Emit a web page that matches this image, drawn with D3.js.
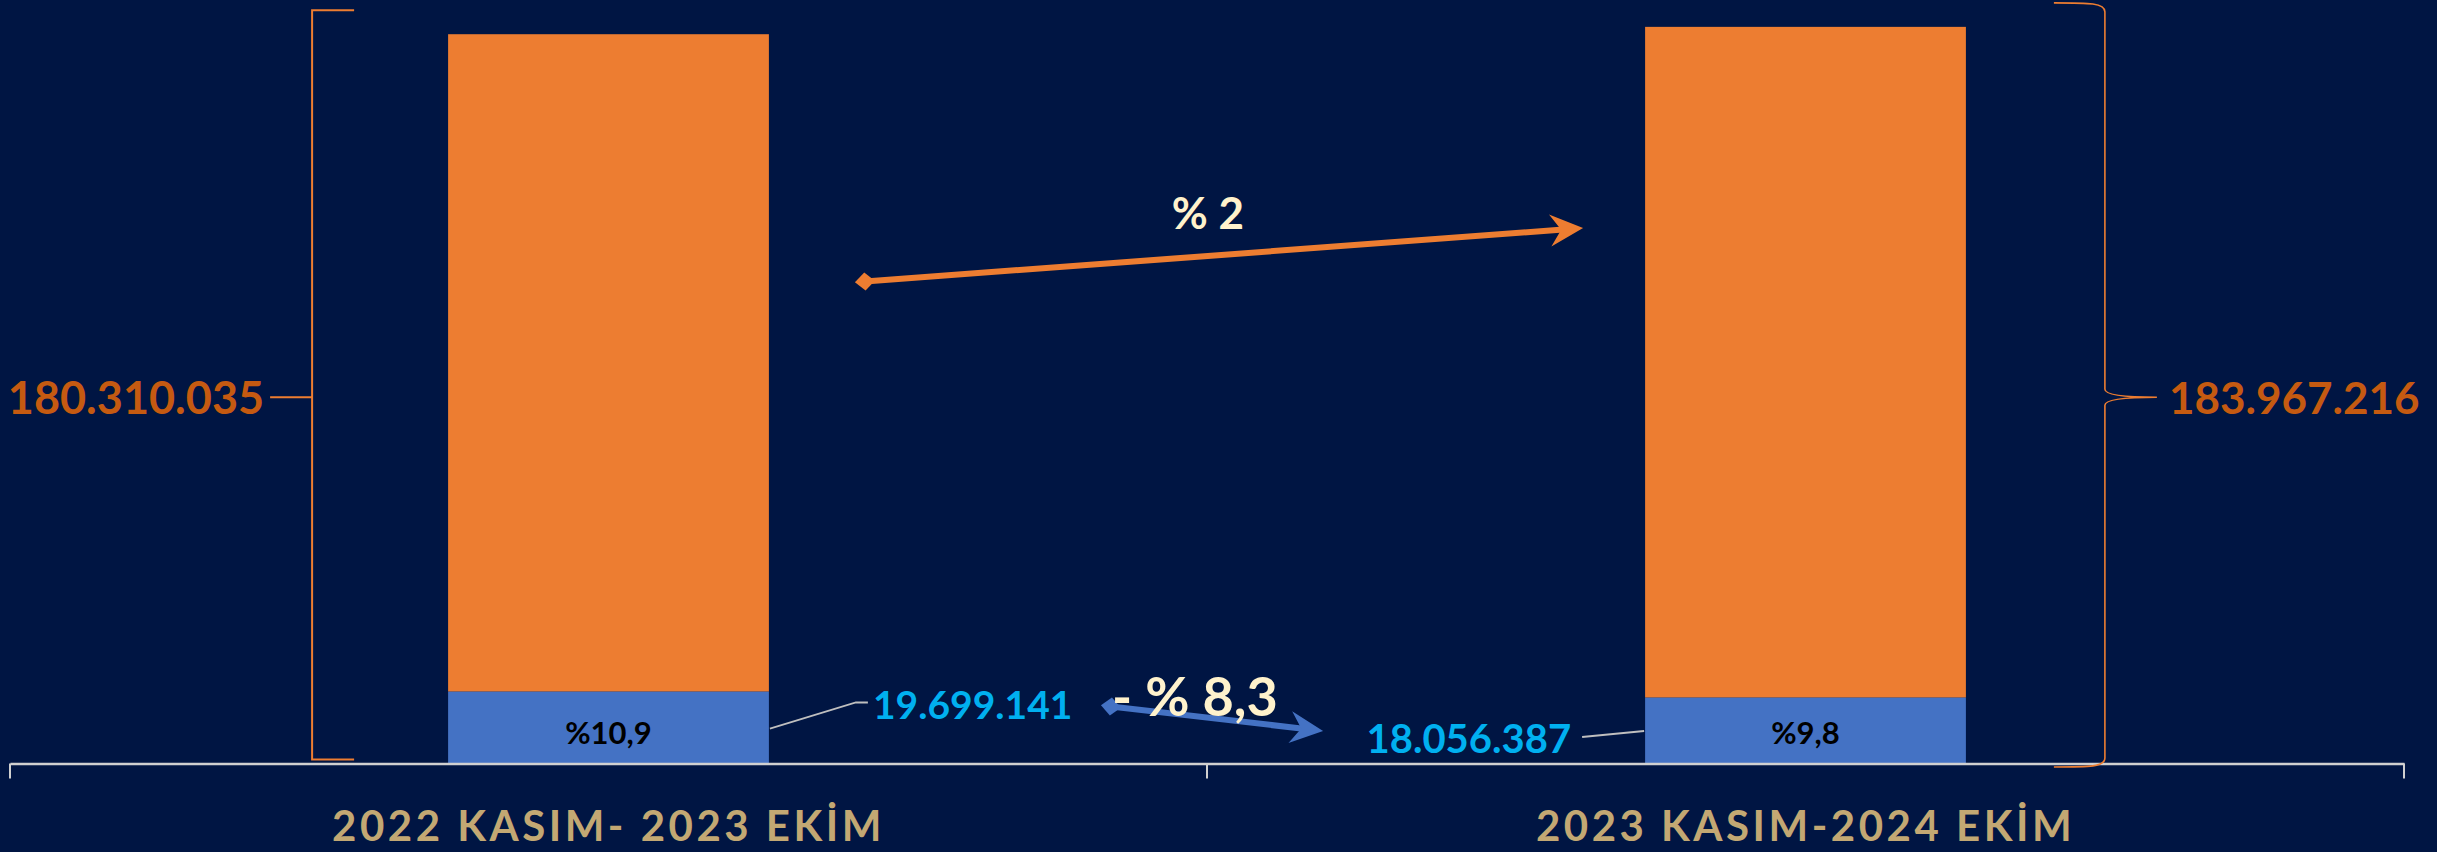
<!DOCTYPE html>
<html><head><meta charset="utf-8">
<script src="https://cdn.jsdelivr.net/npm/d3@7"></script>
<style>html,body{margin:0;padding:0;background:#001543;}svg{display:block;}</style>
</head><body>
<script>
const categories = ["2022 KASIM- 2023 EKİM", "2023 KASIM-2024 EKİM"];
const blueValues = [19699141, 18056387];
const orangeValues = [180310035, 183967216];
const shareLabels = ["%10,9", "%9,8"];
const changeLabels = ["% 2", "- % 8,3"];

(function(){
const W = 2437, H = 852;
const C = {bg:"#001543", orange:"#ED7D31", blue:"#4472C4", orangeTxt:"#C55A11", blueTxt:"#00B0F0", cat:"#C3A873", cream:"#FFF2CC", axis:"#D0D0D0"};
const FONT = "Lato, 'Open Sans', sans-serif";
const loc = d3.formatLocale({decimal:",", thousands:".", grouping:[3], currency:["",""]});
const fmt = loc.format(",d");

const svg = d3.select("body").append("svg").attr("width", W).attr("height", H);
svg.append("rect").attr("width", W).attr("height", H).attr("fill", C.bg);

const x = d3.scaleBand().domain(categories).range([10, 2404]).padding(0);
const barW = x.bandwidth() * 0.268;
const bx = c => x(c) + (x.bandwidth() - barW) / 2;
const y = d3.scaleLinear().domain([0, 200000000]).range([763.5, 34.24]);

const stacked = categories.map((c, i) => ({c, blue: blueValues[i], orange: orangeValues[i], total: blueValues[i] + orangeValues[i], i}));

const g = svg.append("g");
g.selectAll(".bo").data(stacked).join("rect")
  .attr("x", d => bx(d.c)).attr("width", barW)
  .attr("y", d => y(d.total)).attr("height", d => y(d.blue) - y(d.total))
  .attr("fill", C.orange);
g.selectAll(".bb").data(stacked).join("rect")
  .attr("x", d => bx(d.c)).attr("width", barW)
  .attr("y", d => y(d.blue)).attr("height", d => y(0) - y(d.blue))
  .attr("fill", C.blue);

g.selectAll(".sl").data(stacked).join("text")
  .attr("x", d => bx(d.c) + barW / 2).attr("y", d => y(0) - 20)
  .attr("text-anchor", "middle").attr("font-family", FONT).attr("font-weight", 700)
  .attr("font-size", 31).attr("fill", "#000").text((d, i) => shareLabels[i]);

const y0 = y(0);
const ax = svg.append("g").attr("transform", `translate(0,${y0})`);
ax.call(d3.axisBottom(x).tickSize(0).tickFormat(""));
ax.select(".domain").attr("stroke", C.axis).attr("stroke-width", 2.5);
const bounds = [x.range()[0], x(categories[1]), x.range()[1]];
ax.selectAll(".bt").data(bounds).join("line")
  .attr("x1", d => d).attr("x2", d => d).attr("y1", 0).attr("y2", 15)
  .attr("stroke", C.axis).attr("stroke-width", 2);

svg.selectAll(".cl").data(categories).join("text")
  .attr("x", d => x(d) + x.bandwidth() / 2).attr("y", 841)
  .attr("text-anchor", "middle").attr("font-family", FONT).attr("font-weight", 700)
  .attr("font-size", 42).attr("letter-spacing", 3.5).attr("fill", C.cat).text(d => d);

const b0 = stacked[0], b1 = stacked[1];
const lbX = bx(b0.c) - 136, midY = (y(0) + y(b1.total)) / 2 + 2;
svg.append("path")
  .attr("d", `M${lbX + 42},${y(b0.total) - 24} H${lbX} V${y(0) - 4} H${lbX + 42} M${lbX},${midY} H${lbX - 42}`)
  .attr("fill", "none").attr("stroke", C.orange).attr("stroke-width", 2);
svg.append("text").attr("x", lbX - 48).attr("y", midY + 17).attr("text-anchor", "end")
  .attr("font-family", FONT).attr("font-weight", 700).attr("font-size", 45)
  .attr("fill", C.orangeTxt).text(fmt(b0.orange));

const rbX = bx(b1.c) + barW + 139, bTop = y(b1.total) - 24, bBot = y(0) + 3.5;
svg.append("path")
  .attr("d", `M${rbX - 51},${bTop} C${rbX - 15},${bTop} ${rbX},${bTop} ${rbX},${bTop + 9} V${midY - 8} C${rbX},${midY - 2} ${rbX + 24},${midY} ${rbX + 52},${midY} C${rbX + 24},${midY} ${rbX},${midY + 2} ${rbX},${midY + 8} V${bBot - 9} C${rbX},${bBot} ${rbX - 15},${bBot} ${rbX - 51},${bBot}`)
  .attr("fill", "none").attr("stroke", C.orange).attr("stroke-width", 1.6);
svg.append("text").attr("x", rbX + 64).attr("y", midY + 17).attr("text-anchor", "start")
  .attr("font-family", FONT).attr("font-weight", 700).attr("font-size", 44)
  .attr("fill", C.orangeTxt).text(fmt(b1.orange));

const r0 = bx(b0.c) + barW, l1 = bx(b1.c);
svg.append("path").attr("d", `M${r0 + 1},${y(b0.blue / 2) + 1} L${r0 + 87},${y(0) - 61} H${r0 + 99}`)
  .attr("fill", "none").attr("stroke", "#BFBFBF").attr("stroke-width", 1.8);
svg.append("text").attr("x", r0 + 104).attr("y", y(0) - 45).attr("font-family", FONT)
  .attr("font-weight", 700).attr("font-size", 39).attr("fill", C.blueTxt).text(fmt(b0.blue));
svg.append("path").attr("d", `M${l1 - 1},${y(0) - 32.5} L${l1 - 63},${y(0) - 26.5}`)
  .attr("fill", "none").attr("stroke", "#BFBFBF").attr("stroke-width", 1.8);
svg.append("text").attr("x", l1 - 74).attr("y", y(0) - 11).attr("text-anchor", "end").attr("font-family", FONT)
  .attr("font-weight", 700).attr("font-size", 40).attr("fill", C.blueTxt).text(fmt(b1.blue));

function arrow(x1, y1, x2, y2, color, w) {
  const a = Math.atan2(y2 - y1, x2 - x1);
  const deg = a * 180 / Math.PI;
  svg.append("line").attr("x1", x1).attr("y1", y1).attr("x2", x2 - 20 * Math.cos(a)).attr("y2", y2 - 20 * Math.sin(a))
    .attr("stroke", color).attr("stroke-width", w);
  svg.append("path").attr("d", "M0,0 L-33,-16 L-22,0 L-33,16 Z").attr("fill", color)
    .attr("transform", `translate(${x2},${y2}) rotate(${deg})`);
  svg.append("path").attr("d", "M-10,0 L0,-9 L10,0 L0,9 Z").attr("fill", color)
    .attr("transform", `translate(${x1},${y1}) rotate(${deg})`);
}
arrow(r0 + 96, 281.5, l1 - 62, 228, C.orange, 6);
arrow(r0 + 342, y(0) - 57, l1 - 322, y(0) - 32.5, C.blue, 6);

svg.append("text").attr("x", (r0 + l1) / 2 + 1).attr("y", 229).attr("text-anchor", "middle")
  .attr("font-family", FONT).attr("font-weight", 700).attr("font-size", 44).attr("fill", C.cream).text(changeLabels[0]);
svg.append("text").attr("x", r0 + 343).attr("y", y(0) - 48).attr("text-anchor", "start")
  .attr("font-family", FONT).attr("font-weight", 700).attr("font-size", 54).attr("fill", C.cream).text(changeLabels[1]);
})();
</script>
</body></html>
